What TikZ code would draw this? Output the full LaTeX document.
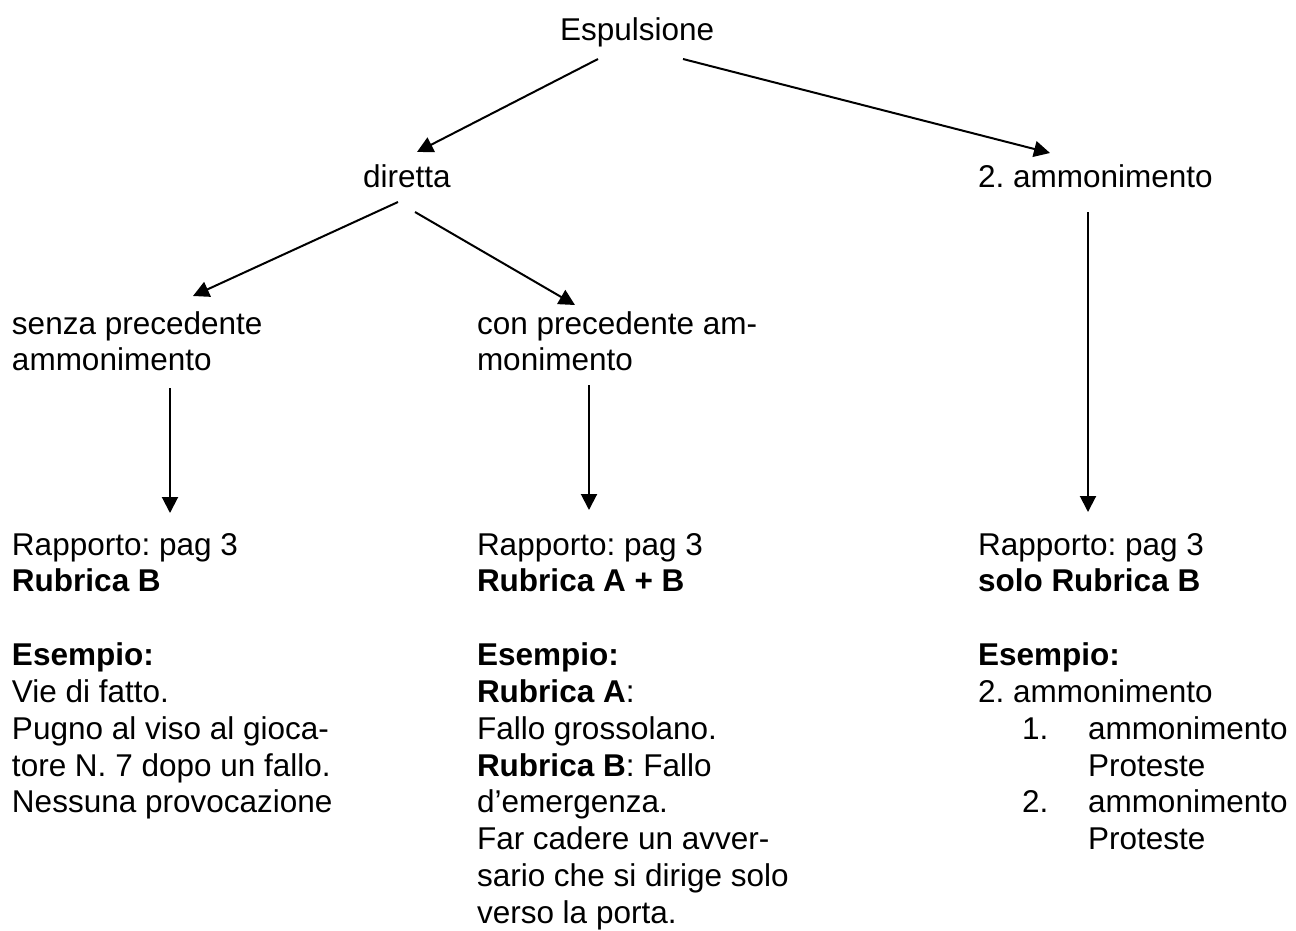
\documentclass[tikz,border=0pt]{standalone}
\usepackage{fontspec}
\setmainfont{Liberation Sans}
\usetikzlibrary{arrows.meta}
\frenchspacing
\newcommand{\blk}[1]{\begin{tabular}[t]{@{}l@{}}#1\end{tabular}}
\begin{document}
\begin{tikzpicture}[x=1pt,y=1pt,
  txt/.style={anchor=base west,inner sep=0pt,outer sep=0pt,font=\frenchspacing\fontsize{31.5}{36.85}\selectfont},
  arr/.style={line width=2pt,-{Triangle[length=16pt,width=16pt]}}]
\useasboundingbox (0,0) rectangle (1296,-930);
\node[txt] (esp) at (560,-40) {Espulsione};
\node[txt] (dir) at (363,-187) {diretta};
\node[txt] (amm) at (978,-187) {2. ammonimento};
\node[txt] (senza) at (12,-334) {\blk{senza precedente\\ammonimento}};
\node[txt] (con) at (477,-334) {\blk{con precedente am-\\monimento}};
\node[txt] (c1) at (12,-555) {\blk{Rapporto: pag 3\\\textbf{Rubrica B}\\ \\\textbf{Esempio:}\\Vie di fatto.\\Pugno al viso al gioca-\\tore N. 7 dopo un fallo.\\Nessuna provocazione}};
\node[txt] (c2) at (477,-555) {\blk{Rapporto: pag 3\\\textbf{Rubrica A + B}\\ \\\textbf{Esempio:}\\\textbf{Rubrica A}:\\Fallo grossolano.\\\textbf{Rubrica B}: Fallo\\d’emergenza.\\Far cadere un avver-\\sario che si dirige solo\\verso la porta.}};
\node[txt] (c3) at (978,-555) {\blk{Rapporto: pag 3\\\textbf{solo Rubrica B}\\ \\\textbf{Esempio:}\\2. ammonimento\\\hspace*{44pt}\makebox[66pt][l]{1.}ammonimento\\\hspace*{110pt}Proteste\\\hspace*{44pt}\makebox[66pt][l]{2.}ammonimento\\\hspace*{110pt}Proteste}};
\draw[arr] ([shift={(38,-19)}]esp.base west) -- ([shift={(54,35)}]dir.base west);
\draw[arr] ([shift={(123,-19)}]esp.base west) -- ([shift={(72,34)}]amm.base west);
\draw[arr] ([shift={(35,-15)}]dir.base west) -- ([shift={(181,38)}]senza.base west);
\draw[arr] ([shift={(52,-25)}]dir.base west) -- ([shift={(98,29)}]con.base west);
\draw[arr] ([shift={(158,-54)}]senza.base west) -- ([shift={(158,42)}]c1.base west);
\draw[arr] ([shift={(112,-51)}]con.base west) -- ([shift={(112,45)}]c2.base west);
\draw[arr] ([shift={(110,-25)}]amm.base west) -- ([shift={(110,43)}]c3.base west);
\end{tikzpicture}
\end{document}
